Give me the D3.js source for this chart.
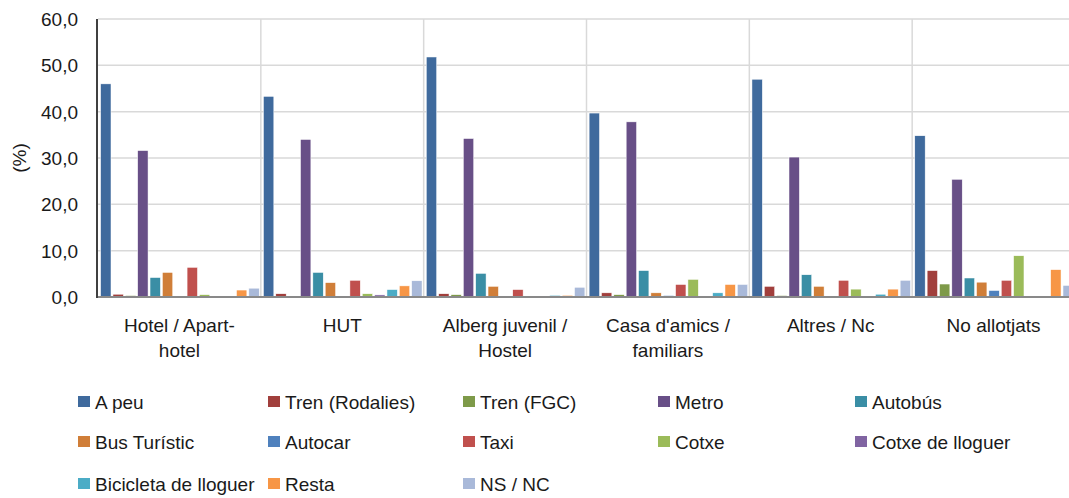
<!DOCTYPE html>
<html><head><meta charset="utf-8">
<script src="https://cdn.jsdelivr.net/npm/d3@7"></script>
<style>body{margin:0;background:#fff}svg{display:block}text{font-family:"Liberation Sans",Arial,sans-serif;fill:#1a1a1a}</style>
</head><body><svg id="c" width="1069" height="498"></svg>
<script>
const categories = [["Hotel / Apart-","hotel"],["HUT"],["Alberg juvenil /","Hostel"],["Casa d'amics /","familiars"],["Altres / Nc"],["No allotjats"]];
const seriesNames = ["A peu","Tren (Rodalies)","Tren (FGC)","Metro","Autobús","Bus Turístic","Autocar","Taxi","Cotxe","Cotxe de lloguer","Bicicleta de lloguer","Resta","NS / NC"];
const seriesColors = ["#3F6A9D","#A13F3C","#7E9A49","#684F87","#3A8EA5","#D07E38","#4F81BD","#C0504D","#9BBB59","#8064A2","#4BACC6","#F79646","#A9B9D9"];
// values per category, in series order
const hotel   = [46.0,0.6,0.3,31.6,4.2,5.3,0.15,6.4,0.5,0.0,0.15,1.5,1.9];
const hut     = [43.3,0.7,0.0,34.0,5.3,3.1,0.0,3.6,0.7,0.45,1.6,2.4,3.5];
const alberg  = [51.8,0.7,0.5,34.2,5.1,2.3,0.0,1.6,0.0,0.0,0.35,0.35,2.1];
const casa    = [39.7,0.9,0.5,37.8,5.7,0.9,0.3,2.7,3.8,0.0,0.9,2.7,2.7];
const altres  = [47.0,2.3,0.3,30.2,4.8,2.3,0.15,3.6,1.7,0.15,0.6,1.7,3.6];
const noAllot = [34.8,5.7,2.8,25.4,4.1,3.2,1.4,3.6,8.9,0.0,0.0,5.9,2.5];
const yTicks = [0,10,20,30,40,50,60];

(function(){
const data = [hotel,hut,alberg,casa,altres,noAllot];
const svg = d3.select("#c");
const pL = 98, pR = 1075, pT = 19, pB = 297;
const fs = 19;

const x0 = d3.scaleBand().domain(d3.range(categories.length)).range([pL,pR]).padding(0);
const x1 = d3.scaleBand().domain(d3.range(seriesNames.length)).range([2, x0.bandwidth()-1]).paddingInner(0.16).paddingOuter(0.05);
const y = d3.scaleLinear().domain([0,60]).range([pB,pT]);

svg.append("g").selectAll("line").data(yTicks.filter(d=>d>0)).join("line")
  .attr("x1",pL).attr("x2",pR).attr("y1",d=>y(d)).attr("y2",d=>y(d))
  .attr("stroke","#D9D9D9").attr("stroke-width",1.5);
svg.append("g").selectAll("line").data(d3.range(1,categories.length+1)).join("line")
  .attr("x1",d=>x0(0)+d*x0.step()).attr("x2",d=>x0(0)+d*x0.step()).attr("y1",pT).attr("y2",pB)
  .attr("stroke","#D9D9D9").attr("stroke-width",1.5);

const g = svg.append("g").selectAll("g").data(data).join("g").attr("transform",(d,i)=>`translate(${x0(i)},0)`);
g.selectAll("rect").data(d=>d.map((v,j)=>({v,j}))).join("rect")
  .attr("x",d=>x1(d.j)).attr("width",x1.bandwidth())
  .attr("y",d=>y(d.v)).attr("height",d=>y(0)-y(d.v))
  .attr("fill",d=>seriesColors[d.j]).attr("stroke","#fff").attr("stroke-width",0.5);

svg.append("line").attr("x1",pL).attr("x2",pR).attr("y1",pB).attr("y2",pB).attr("stroke","#898989").attr("stroke-width",2);
svg.append("line").attr("x1",pL-1).attr("x2",pL-1).attr("y1",pT).attr("y2",pB+1).attr("stroke","#000").attr("stroke-width",1.5);
const fmt = d => d.toFixed(1).replace(".",",");
svg.append("g").selectAll("text").data(yTicks).join("text")
  .attr("x",78).attr("y",d=>y(d)+7).attr("text-anchor","end").attr("font-size",fs).text(fmt);
svg.append("text").attr("transform","translate(26,158) rotate(-90)").attr("text-anchor","middle").attr("font-size",fs).text("(%)");

svg.append("g").selectAll("text").data(categories).join("text")
  .attr("text-anchor","middle").attr("font-size",fs)
  .attr("transform",(d,i)=>`translate(${x0(i)+x0.bandwidth()/2},0)`)
  .each(function(d){
    d3.select(this).selectAll("tspan").data(d).join("tspan")
      .attr("x",0).attr("y",(t,k)=>332+k*25).text(t=>t);
  });

const legCols = [78,268,463,658,855], legRows = [402,442,484];
const lg = svg.append("g").selectAll("g").data(seriesNames).join("g")
  .attr("transform",(d,i)=>`translate(${legCols[i%5]},${legRows[Math.floor(i/5)]})`);
lg.append("rect").attr("x",0).attr("y",-6).attr("width",12).attr("height",11).attr("fill",(d,i)=>seriesColors[i]);
lg.append("text").attr("x",17).attr("y",7).attr("font-size",fs).text(d=>d);
})();
</script></body></html>
